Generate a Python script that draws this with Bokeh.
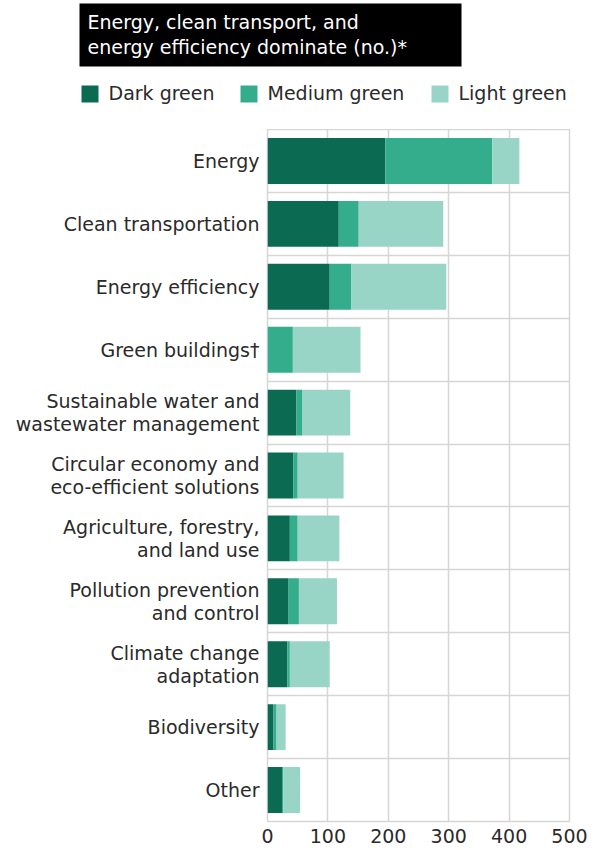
from bokeh.plotting import figure
from bokeh.layouts import column
from bokeh.models import Range1d, FixedTicker, ColumnDataSource
from bokeh.core.properties import value
from bokeh.embed import file_html
from bokeh.resources import INLINE

# ---------------- data ----------------
categories = [
    "Energy",
    "Clean transportation",
    "Energy efficiency",
    "Green buildings†",
    "Sustainable water and\nwastewater management",
    "Circular economy and\neco-efficient solutions",
    "Agriculture, forestry,\nand land use",
    "Pollution prevention\nand control",
    "Climate change\nadaptation",
    "Biodiversity",
    "Other",
]
dark_green = [195, 118, 103, 0, 48, 43, 37, 35, 33, 10, 24]
medium_green = [177, 33, 36, 42, 10, 7, 13, 17, 4, 5, 2]
light_green = [45, 140, 157, 112, 79, 76, 69, 63, 66, 15, 28]
series_names = ["Dark green", "Medium green", "Light green"]
x_ticks = [0, 100, 200, 300, 400, 500]
title_lines = ["Energy, clean transport, and", "energy efficiency dominate (no.)*"]

# ---------------- style ----------------
colors = ["#0b6b52", "#34ad8c", "#99d5c7"]
FONT = "DejaVu Sans"
FS = "19px"
TEXT = "#2a2a2a"
GRID = "#d6d6d6"
W, H = 602, 850
HEAD = 129                      # height of the header strip (title + legend)
FL, FR, FB = 267, 569, 821      # chart frame edges in canvas px

# ---------------- header (title box + legend) ----------------
head = figure(width=W, height=HEAD, output_backend="svg", toolbar_location=None,
              x_range=Range1d(0, W), y_range=Range1d(HEAD, 0),
              x_axis_location=None, y_axis_location=None, min_border=0)
head.frame_align = False
head.grid.visible = False
head.outline_line_color = None
head.background_fill_color = "white"
head.border_fill_color = "white"

head.quad(left=[79], right=[461], top=[3], bottom=[66], fill_color="black", line_color=None)
head.text(x=[87, 87], y=[21, 46], text=title_lines, text_font=value(FONT),
          text_font_size=FS, text_color="white", text_baseline="alphabetic")

sq_left = [81, 240, 431]
txt_left = [108, 267, 458]
head.quad(left=sq_left, right=[s + 17 for s in sq_left], top=[85] * 3, bottom=[102] * 3,
          fill_color=colors, line_color=None)
head.text(x=txt_left, y=[92] * 3, text=series_names, text_font=value(FONT),
          text_font_size=FS, text_color=TEXT, text_baseline="alphabetic")

# ---------------- chart ----------------
n = len(categories)
ypos = [2 * (n - i) - 1 for i in range(n)]  # row centres (odd integers)

source = ColumnDataSource(dict(
    y=ypos, dark=dark_green, medium=medium_green, light=light_green,
))

p = figure(width=W, height=H - HEAD, output_backend="svg", toolbar_location=None,
           x_range=Range1d(0, 500), y_range=Range1d(0, 2 * n),
           min_border_left=FL, min_border_right=W - FR,
           min_border_top=0, min_border_bottom=H - FB)
p.frame_align = False
p.background_fill_color = "white"
p.border_fill_color = "white"
p.outline_line_color = GRID
p.outline_line_width = 1.5

p.hbar_stack(["dark", "medium", "light"], y="y", height=1.46,
             fill_color=colors, line_color=None, source=source)

p.xgrid.ticker = FixedTicker(ticks=x_ticks)
p.ygrid.ticker = FixedTicker(ticks=list(range(0, 2 * n + 1, 2)))
for g in (p.xgrid, p.ygrid):
    g.grid_line_color = GRID
    g.grid_line_width = 1.5

p.xaxis.ticker = FixedTicker(ticks=x_ticks)
p.yaxis.ticker = FixedTicker(ticks=ypos)
p.yaxis.major_label_overrides = {y: c for y, c in zip(ypos, categories)}
for ax in (p.xaxis, p.yaxis):
    ax.axis_line_color = None
    ax.major_tick_line_color = None
    ax.minor_tick_line_color = None
    ax.major_tick_out = 0
    ax.major_tick_in = 0
    ax.major_label_text_font = FONT
    ax.major_label_text_font_size = FS
    ax.major_label_text_color = TEXT
p.yaxis.major_label_text_line_height = 1.05
p.xaxis.major_label_standoff = 7
p.yaxis.major_label_standoff = 8

layout = column(head, p, spacing=0)
open("out.html", "w").write(file_html(layout, INLINE))
